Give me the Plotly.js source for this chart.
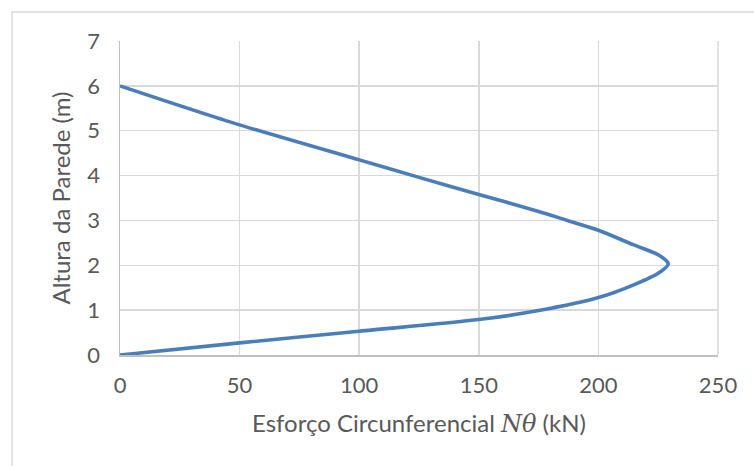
<!DOCTYPE html>
<html>
<head>
<meta charset="utf-8">
<script src="https://cdn.plot.ly/plotly-3.0.1.min.js"></script>
<style>html,body{margin:0;padding:0;background:#fff;}#chart{width:754px;height:466px;}</style>
</head>
<body>
<div id="chart"></div>
<script>
// Esforço circunferencial (kN) vs altura da parede (m)
const esforco = [0, 50, 100, 150, 175, 200, 215, 225.5, 229.2, 225.5, 214.5, 200, 187, 175, 150, 125, 100, 50, 0];
const altura  = [0, 0.27, 0.53, 0.79, 0.99, 1.28, 1.57, 1.84, 2.03, 2.22, 2.46, 2.78, 3.0, 3.2, 3.58, 3.96, 4.35, 5.13, 6.0];
const xTicks = [0, 50, 100, 150, 200, 250];
const yTicks = [0, 1, 2, 3, 4, 5, 6, 7];

const W = 754, H = 466;
const L = 119.5, R = 36, T = 41, B = 110.5;
const pw = W - L - R, ph = H - T - B;
const px = v => (v - L) / pw;
const py = v => (H - B - v) / ph;

const tickFont = {family: 'Lato, "Open Sans", sans-serif', size: 22, color: '#595959'};
const titleFont = {family: 'Lato, "Open Sans", sans-serif', size: 24, color: '#595959'};

const trace = {
  x: esforco, y: altura, type: 'scatter', mode: 'lines',
  line: {color: '#4a7ebb', width: 3.6, shape: 'spline', smoothing: 0.8},
  hoverinfo: 'skip'
};

const layout = {
  width: W, height: H,
  margin: {l: L, r: R, t: T, b: B, pad: 0},
  paper_bgcolor: '#ffffff', plot_bgcolor: '#ffffff',
  showlegend: false,
  font: tickFont,
  xaxis: {
    range: [0, 250], tickvals: xTicks, ticktext: xTicks.map(String),
    showgrid: true, gridcolor: '#d9d9d9', gridwidth: 1.5,
    showline: true, linecolor: '#bfbfbf', linewidth: 1.5,
    zeroline: false, ticks: 'outside', ticklen: 10, tickcolor: 'rgba(0,0,0,0)',
    tickfont: tickFont,
    title: {text: 'Esforço Circunferencial <i><span style="font-family:DejaVu Serif">Nθ</span></i> (kN)', font: titleFont, standoff: 18}
  },
  yaxis: {
    range: [0, 7], tickvals: yTicks, ticktext: yTicks.map(String),
    showgrid: true, gridcolor: '#d9d9d9', gridwidth: 1.5,
    showline: true, linecolor: '#bfbfbf', linewidth: 1.5,
    zeroline: false, ticks: 'outside', ticklen: 14, tickcolor: 'rgba(0,0,0,0)',
    tickfont: tickFont,
    title: {text: 'Altura da Parede (m)', font: titleFont, standoff: 10}
  },
  shapes: [
    {type: 'rect', xref: 'paper', yref: 'paper',
     x0: px(11.5), x1: px(770), y0: py(480), y1: py(12),
     line: {color: '#d9d9d9', width: 1.5}, fillcolor: 'rgba(0,0,0,0)', layer: 'below'},
    {type: 'line', xref: 'paper', yref: 'paper', x0: 1, x1: 1, y0: 0, y1: 1,
     line: {color: '#d9d9d9', width: 1.5}}
  ]
};

Plotly.newPlot('chart', [trace], layout, {staticPlot: true, displayModeBar: false});
</script>
</body>
</html>
